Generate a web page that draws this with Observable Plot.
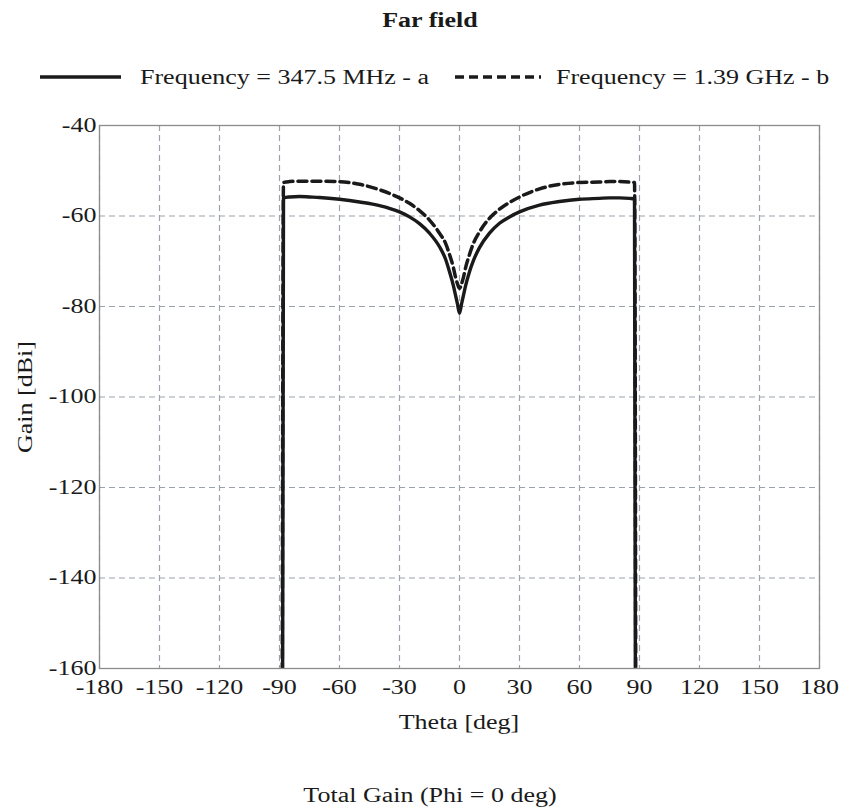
<!DOCTYPE html>
<html>
<head>
<meta charset="utf-8">
<script src="https://cdn.jsdelivr.net/npm/d3@7"></script>
<script src="https://cdn.jsdelivr.net/npm/@observablehq/plot@0.6"></script>
<style>
  html, body { margin: 0; padding: 0; background: #fff; }
  #wrap { position: relative; width: 841px; height: 810px; font-family: "Liberation Serif", "DejaVu Serif", serif; color: #1a1a1a; }
  .t { position: absolute; white-space: nowrap; font-size: 20px; line-height: 1; }
  .c { width: 300px; text-align: center; transform: scaleX(1.3); transform-origin: 50% 50%; }
  .l { transform: scaleX(1.3); transform-origin: 0 50%; }
  #chart { position: absolute; left: 0; top: 100px; }
</style>
</head>
<body>
<div id="wrap">
  <div class="t c" id="title" style="font-weight:bold; left:280px; top:10px;"></div>
  <svg style="position:absolute; left:0; top:60px;" width="841" height="36">
    <line x1="40" x2="121" y1="17" y2="17" stroke="#1a1a1a" stroke-width="3.5"></line>
    <line x1="455" x2="541" y1="17" y2="17" stroke="#1a1a1a" stroke-width="3.5" stroke-dasharray="9,5"></line>
  </svg>
  <div class="t l" id="leg1" style="left:140px; top:67px;"></div>
  <div class="t l" id="leg2" style="left:556px; top:67px;"></div>
  <div id="chart"></div>
  <div class="t c" id="xlab" style="left:309px; top:712px;"></div>
  <div class="t" id="ylab" style="left:-125px; width:300px; text-align:center; top:387px; transform: rotate(-90deg) scaleX(1.3); transform-origin:50% 50%;"></div>
  <div class="t c" id="caption" style="left:280px; top:785px;"></div>
</div>
<script>
// ---- data ----
const seriesNames = ["Frequency = 347.5 MHz - a", "Frequency = 1.39 GHz - b"];
const theta = [-89, -88, -85, -80, -75, -70, -60, -50, -40, -30, -25, -20, -15, -10, -7, -5, -3, -2, -1, 0,
               1, 2, 3, 5, 7, 10, 15, 20, 25, 30, 40, 50, 60, 70, 75, 80, 85, 87.5, 88.5];
const gainA = [-300, -56.0, -55.8, -55.7, -55.8, -55.9, -56.3, -56.9, -57.7, -59.1, -60.2, -61.7, -63.8, -66.8, -69.5, -72.3, -75.5, -77.5, -79.5, -81.5,
               -79.5, -77.5, -75.5, -72.3, -69.8, -67.0, -63.8, -61.6, -60.2, -59.1, -57.6, -56.8, -56.3, -56.1, -56.0, -56.0, -56.1, -56.2, -300];
const gainB = [-300, -52.6, -52.4, -52.3, -52.3, -52.3, -52.4, -53.0, -54.2, -56.0, -57.2, -58.8, -60.9, -63.8, -66.0, -68.5, -71.5, -73.5, -75.0, -76.0,
               -75.0, -73.5, -71.5, -68.5, -66.0, -63.5, -60.5, -58.5, -57.0, -55.8, -54.0, -53.0, -52.6, -52.5, -52.4, -52.4, -52.5, -52.6, -300];
const xTicks = [-180, -150, -120, -90, -60, -30, 0, 30, 60, 90, 120, 150, 180];
const yTicks = [-160, -140, -120, -100, -80, -60, -40];
const titleText = "Far field";
const xLabel = "Theta [deg]";
const yLabel = "Gain [dBi]";
const captionText = "Total Gain (Phi = 0 deg)";

document.getElementById("title").textContent = titleText;
document.getElementById("leg1").textContent = seriesNames[0];
document.getElementById("leg2").textContent = seriesNames[1];
document.getElementById("xlab").textContent = xLabel;
document.getElementById("ylab").textContent = yLabel;
document.getElementById("caption").textContent = captionText;

const rowsA = theta.map((t, i) => ({theta: t, gain: gainA[i]}));
const rowsB = theta.map((t, i) => ({theta: t, gain: gainB[i]}));

const gridStyle = {stroke: "#9ca2ab", strokeOpacity: 1, strokeWidth: 1.2, strokeDasharray: "6,4"};

const chart = Plot.plot({
  width: 841,
  height: 608,
  marginLeft: 99,
  marginRight: 22,
  marginTop: 25,
  marginBottom: 40,
  style: {fontFamily: "'Liberation Serif', serif", fontSize: "20px", color: "#1a1a1a", background: "transparent"},
  x: {domain: [-180, 180], ticks: xTicks, label: null},
  y: {domain: [-160, -40], ticks: yTicks, label: null},
  marks: [
    Plot.gridX(xTicks, {...gridStyle}),
    Plot.gridY(yTicks, {...gridStyle}),
    Plot.axisX(xTicks, {tickSize: 0, tickPadding: 11, label: null, fill: "#1a1a1a", tickFormat: d => String(d)}),
    Plot.axisY(yTicks, {tickSize: 0, tickPadding: 3, label: null, fill: "#1a1a1a", tickFormat: d => String(d)}),
    Plot.line(rowsB, {x: "theta", y: "gain", stroke: "#1a1a1a", strokeWidth: 3.5, strokeDasharray: "9,5", curve: "monotone-x", clip: true}),
    Plot.line(rowsA, {x: "theta", y: "gain", stroke: "#1a1a1a", strokeWidth: 3.4, curve: "monotone-x", clip: true}),
    Plot.frame({stroke: "#8c8c8c", strokeWidth: 1.3})
  ]
});
// widen tick-label glyphs horizontally like the reference typeface
d3.select(chart).selectAll('g[aria-label$="tick label"] text').each(function () {
  const tr = this.getAttribute("transform") || "";
  this.setAttribute("transform", tr + " scale(1.3,1)");
});
document.getElementById("chart").appendChild(chart);
</script>
</body>
</html>
